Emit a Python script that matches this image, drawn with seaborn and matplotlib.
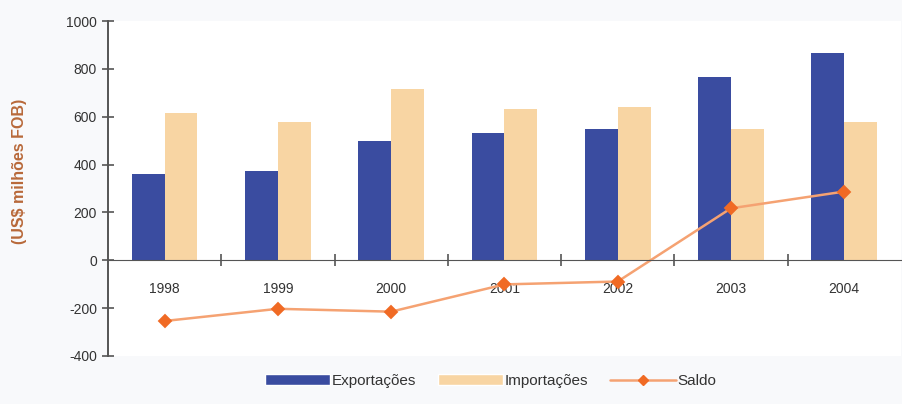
import pandas as pd
import matplotlib.pyplot as plt
import seaborn as sns
from matplotlib.lines import Line2D
from matplotlib.patches import Patch
from matplotlib.ticker import FixedLocator

# Values (US$ milhões FOB)
anos = ["1998", "1999", "2000", "2001", "2002", "2003", "2004"]
exportacoes = [360, 375, 500, 530, 550, 765, 865]
importacoes = [614, 578, 715, 631, 639, 548, 578]
saldo = [-254, -203, -215, -101, -89, 217, 287]

cor_exp = "#3a4ca0"
cor_imp = "#f8d5a3"
cor_saldo = "#f5a272"
cor_marc = "#f06a24"

sns.set_style("white")
plt.rcParams["font.family"] = ["Liberation Sans", "DejaVu Sans"]
plt.rcParams["axes.unicode_minus"] = False

df = pd.DataFrame({
    "ano": anos * 2,
    "valor": exportacoes + importacoes,
    "serie": ["Exportações"] * len(anos) + ["Importações"] * len(anos),
})

fig = plt.figure(figsize=(9.03, 4.04), dpi=100)
fig.patch.set_facecolor("#f8f9fb")
ax = fig.add_axes([0.1196, 0.119, 0.878, 0.829])
ax.set_facecolor("white")

sns.barplot(data=df, x="ano", y="valor", hue="serie", order=anos,
            palette=[cor_exp, cor_imp], width=0.58, gap=0,
            saturation=1, linewidth=0, legend=False, ax=ax)
sns.pointplot(x=anos, y=saldo, order=anos, color=cor_saldo, markers="D",
              markersize=6, linewidth=1.8, ax=ax)
for l in ax.lines:
    l.set_markerfacecolor(cor_marc)
    l.set_markeredgecolor(cor_marc)

ax.set_xlim(-0.5, 6.5)
ax.set_ylim(-400, 1000)
ax.set_yticks(range(-400, 1001, 200))
ax.tick_params(axis="y", left=True, direction="inout", length=8, width=1.2,
               color="#555555", labelsize=10, labelcolor="#333333", pad=4)
ax.tick_params(axis="x", which="major", bottom=True, length=0, labelsize=10,
               labelcolor="#333333", pad=16)
ax.xaxis.set_minor_locator(FixedLocator([i + 0.5 for i in range(6)]))
ax.tick_params(axis="x", which="minor", bottom=True, direction="inout",
               length=8, width=1.2, color="#555555")

ax.spines["top"].set_visible(False)
ax.spines["right"].set_visible(False)
ax.spines["bottom"].set_position(("data", 0))
ax.spines["bottom"].set_color("#555555")
ax.spines["left"].set_color("#555555")
ax.spines["left"].set_linewidth(1.4)

ax.set_xlabel("")
ax.set_ylabel("(US$ milhões FOB)", fontsize=11.5, fontweight="bold",
              color="#b8693a")
ax.yaxis.set_label_coords(-0.102, 0.55)

handles = [
    Patch(facecolor=cor_exp, label="Exportações"),
    Patch(facecolor=cor_imp, label="Importações"),
    Line2D([0], [0], color=cor_saldo, lw=1.8, marker="D", markersize=5,
           markerfacecolor=cor_marc, markeredgecolor=cor_marc, label="Saldo"),
]
fig.legend(handles=handles, loc="center", bbox_to_anchor=(0.543, 0.057),
           ncol=3, frameon=False, fontsize=11, handlelength=4.3,
           handletextpad=0.1, columnspacing=1.4, labelcolor="#333333")

fig.savefig("out.png", dpi=100, facecolor=fig.get_facecolor())
